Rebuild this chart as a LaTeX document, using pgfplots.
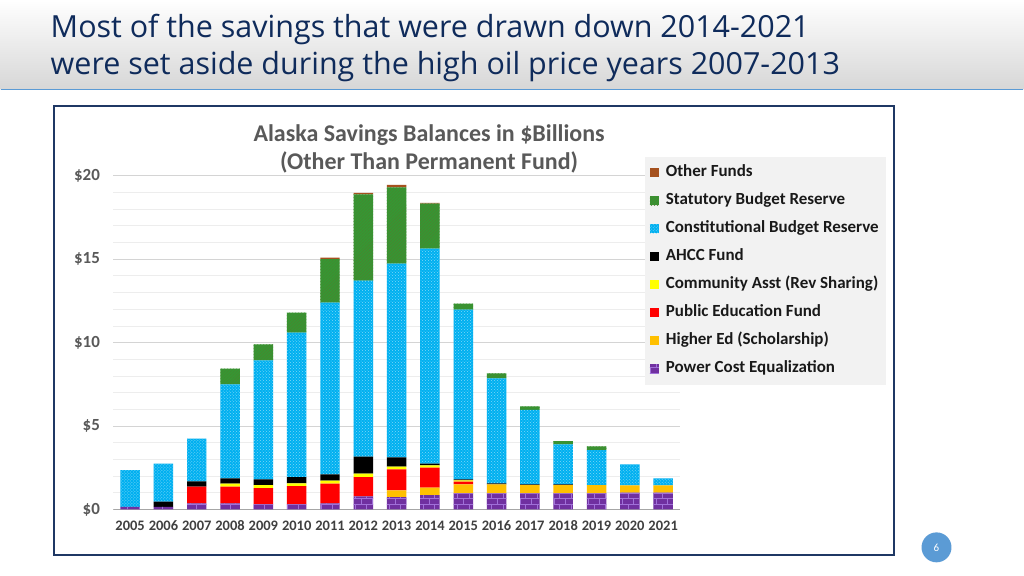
\documentclass[border=0pt]{standalone}
\usepackage{fontspec}
\setmainfont{Carlito}
\newfontfamily\titlefont{Open Sans}
\usepackage{pgfplots}
\usepackage{pgfplotstable}
\pgfplotsset{compat=1.18}
\usetikzlibrary{patterns}
\definecolor{titleblue}{HTML}{0F2B5B}
\definecolor{boxnavy}{HTML}{1F3864}
\definecolor{lineblue}{HTML}{5B9BD5}
\definecolor{pce}{HTML}{7030A0}
\definecolor{pcel}{HTML}{A070D8}
\definecolor{hied}{HTML}{FFC000}
\definecolor{pef}{HTML}{FF0000}
\definecolor{comm}{HTML}{FFFF00}
\definecolor{ahcc}{HTML}{000000}
\definecolor{cbr}{HTML}{00B0F0}
\definecolor{cbrl}{HTML}{80D8F8}
\definecolor{sbr}{HTML}{339933}
\definecolor{sbrd}{HTML}{4F7F2F}
\definecolor{oth}{HTML}{A5511E}
\definecolor{lab}{HTML}{595959}

\pgfplotstableread{
year pce  hied pef  comm ahcc cbr   sbr  oth
2005 0.15 0    0    0    0    2.20  0    0
2006 0.15 0    0    0    0.32 2.28  0    0
2007 0.36 0    1.00 0    0.32 2.56  0    0
2008 0.36 0    1.00 0.18 0.32 5.64  0.94 0
2009 0.30 0    0.98 0.18 0.34 7.14  0.95 0
2010 0.30 0    1.10 0.16 0.38 8.66  1.20 0
2011 0.36 0    1.18 0.18 0.38 10.30 2.60 0.10
2012 0.78 0    1.16 0.20 1.02 10.55 5.17 0.10
2013 0.74 0.40 1.26 0.16 0.56 11.61 4.58 0.15
2014 0.86 0.44 1.20 0.14 0.10 12.89 2.70 0.05
2015 0.96 0.54 0.16 0.08 0.06 10.18 0.36 0
2016 0.96 0.54 0    0    0.06 6.30  0.30 0
2017 0.96 0.50 0    0    0.04 4.46  0.22 0
2018 0.96 0.50 0    0    0.04 2.40  0.20 0
2019 0.96 0.50 0    0    0    2.10  0.22 0
2020 1.00 0.44 0    0    0    1.26  0    0
2021 1.00 0.44 0    0    0    0.42  0    0
}\savings

\begin{document}
\begin{tikzpicture}[x=1pt,y=1pt]
\fill[white] (0,0) rectangle (1024,576);
\shade[top color=white, bottom color=black!16] (0,486) rectangle (1024,576);
\draw[lineblue, line width=1.2pt] (0,486) -- (1024,486);
\node[anchor=base west, inner sep=0pt, text=titleblue, font=\titlefont\fontsize{30.5}{36}\selectfont] at (50,538) {Most of the savings that were drawn down 2014-2021};
\node[anchor=base west, inner sep=0pt, text=titleblue, font=\titlefont\fontsize{30.5}{36}\selectfont] at (50,501) {were set aside during the high oil price years 2007-2013};
\draw[boxnavy, line width=2pt] (53,20) rectangle (894,470);

\begin{axis}[
  at={(113pt,66pt)}, anchor=south west,
  scale only axis, width=567pt, height=334pt,
  ybar stacked, bar width=19.5pt,
  xmin=2004.5, xmax=2021.5, ymin=0, ymax=20,
  xtick={2005,2006,2007,2008,2009,2010,2011,2012,2013,2014,2015,2016,2017,2018,2019,2020,2021},
  xticklabels={2005,2006,2007,2008,2009,2010,2011,2012,2013,2014,2015,2016,2017,2018,2019,2020,2021},
  ytick={0,5,10,15,20},
  yticklabels={\$0,\$5,\$10,\$15,\$20},
  minor y tick num=4,
  ymajorgrids, yminorgrids,
  major grid style={draw=black!17, line width=0.8pt},
  minor grid style={draw=black!7, line width=0.8pt},
  axis line style={draw=none},
  major tick length=0pt, minor tick length=0pt,
  yticklabel style={font=\bfseries\fontsize{17}{19}\selectfont, text=lab, xshift=-10pt},
  xticklabel style={font=\bfseries\fontsize{14.5}{16}\selectfont, text=black!75, yshift=-9pt, text height=9pt, text depth=0pt},
  reverse legend,
  legend cell align=left,
  legend image code/.code={\fill[#1] (0pt,-4.5pt) rectangle (9pt,4.5pt);},
  legend style={at={(axis description cs:0.938,1.057)}, anchor=north west,
    fill=black!5, draw=none, font=\bfseries\fontsize{17}{20}\selectfont,
    text=black!90, row sep=10pt, column sep=5pt, inner xsep=5pt, inner ysep=7pt,
    nodes={text height=11pt, text depth=3pt, inner sep=2pt}},
]
\addplot[fill=pce, draw=none, postaction={pattern=bricks, pattern color=pcel}] table[x=year,y=pce] {\savings};
\addlegendentry{Power Cost Equalization}
\addplot[fill=hied, draw=none] table[x=year,y=hied] {\savings};
\addlegendentry{Higher Ed (Scholarship)}
\addplot[fill=pef, draw=none] table[x=year,y=pef] {\savings};
\addlegendentry{Public Education Fund}
\addplot[fill=comm, draw=none] table[x=year,y=comm] {\savings};
\addlegendentry{Community Asst (Rev Sharing)}
\addplot[fill=ahcc, draw=none] table[x=year,y=ahcc] {\savings};
\addlegendentry{AHCC Fund}
\addplot[fill=cbr, draw=none, postaction={pattern=crosshatch dots, pattern color=cbrl}] table[x=year,y=cbr] {\savings};
\addlegendentry{Constitutional Budget Reserve}
\addplot[fill=sbr, draw=none, postaction={pattern=north east lines, pattern color=sbrd}] table[x=year,y=sbr] {\savings};
\addlegendentry{Statutory Budget Reserve}
\addplot[fill=oth, draw=none] table[x=year,y=oth] {\savings};
\addlegendentry{Other Funds}
\draw[black!35, line width=1pt] (axis cs:2004.5,0) -- (axis cs:2021.5,0);
\end{axis}

\node[anchor=base, inner sep=0pt, text=lab, font=\bfseries\fontsize{24}{28}\selectfont] at (429,434) {Alaska Savings Balances in \$Billions};
\node[anchor=base, inner sep=0pt, text=lab, font=\bfseries\fontsize{24}{28}\selectfont] at (429,406) {(Other Than Permanent Fund)};
\fill[lineblue] (937,28) circle (15);
\node[text=white, font=\fontsize{11}{13}\selectfont] at (937,28) {6};
\end{tikzpicture}
\end{document}
